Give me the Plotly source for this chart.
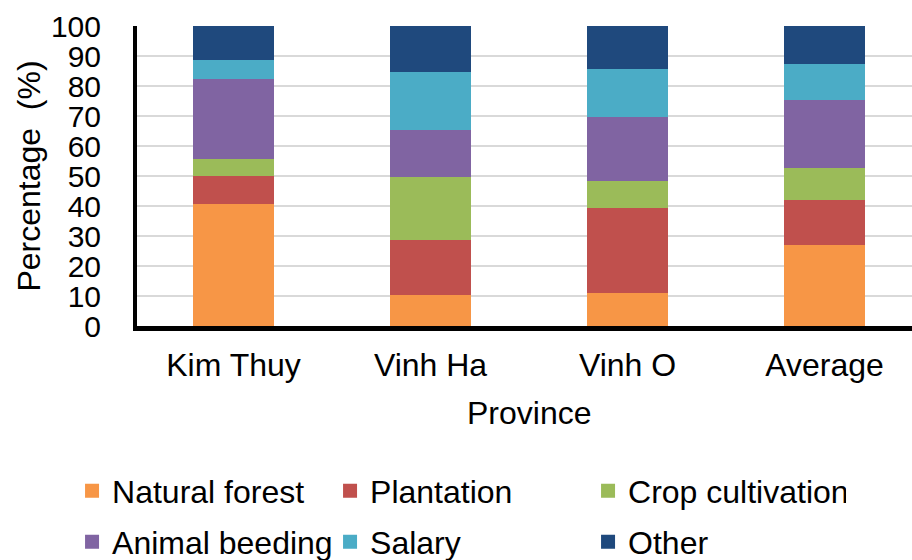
import plotly.graph_objects as go

provinces = ["Kim Thuy", "Vinh Ha", "Vinh O", "Average"]
natural_forest = [41.0, 10.8, 11.3, 27.2]
plantation = [9.3, 18.1, 28.4, 15.2]
crop_cultivation = [5.6, 21.2, 9.1, 10.6]
animal_beeding = [26.9, 15.6, 21.2, 22.6]
salary = [6.3, 19.4, 15.9, 12.0]
other = [10.9, 14.9, 14.1, 12.4]

series = [
    ("Natural forest", natural_forest, "#F79646", "legend"),
    ("Plantation", plantation, "#C0504D", "legend"),
    ("Crop cultivation", crop_cultivation, "#9BBB59", "legend"),
    ("Animal beeding", animal_beeding, "#8064A2", "legend2"),
    ("Salary", salary, "#4BACC6", "legend2"),
    ("Other", other, "#1F497D", "legend2"),
]

FONT = "Arial"

fig = go.Figure()
for name, vals, color, leg in series:
    fig.add_trace(go.Bar(
        x=provinces, y=vals, name=name, legend=leg,
        marker=dict(color=color, line=dict(color=color, width=2)),
    ))

legend_common = dict(
    orientation="h", xanchor="left", yanchor="middle",
    xref="container", yref="container",
    entrywidth=213, entrywidthmode="pixels",
    font=dict(family=FONT, size=32, color="black"),
    bgcolor="rgba(0,0,0,0)", itemclick=False, itemdoubleclick=False,
    traceorder="normal",
)

fig.update_layout(
    width=912, height=560,
    margin=dict(l=137, r=0, t=26, b=234, autoexpand=False),
    paper_bgcolor="white", plot_bgcolor="white",
    barmode="stack", bargap=0.6,
    font=dict(family=FONT, size=32, color="black"),
    showlegend=True,
    legend=dict(x=0.079, y=1 - 491 / 560, **legend_common),
    legend2=dict(x=0.079, y=1 - 542 / 560, **legend_common),
    xaxis=dict(
        range=[-0.49, 3.444], showline=True, linecolor="black", linewidth=5,
        showgrid=False, ticks="", tickfont=dict(size=32),
        ticklabelstandoff=7, automargin=False,
    ),
    yaxis=dict(
        range=[0, 100], dtick=10, showline=True, linecolor="black", linewidth=4,
        showgrid=True, gridcolor="#D9D9D9", gridwidth=1.5,
        ticks="", tickfont=dict(size=30), ticklabelstandoff=26,
        title=dict(text="Percentage\u00a0 (%)", font=dict(size=32), standoff=2),
        zeroline=False, automargin=False,
    ),
    annotations=[dict(
        text="Province", x=1.5, xref="x", y=-0.29, yref="paper",
        yanchor="middle", xanchor="center", showarrow=False,
        font=dict(family=FONT, size=32, color="black"),
    )],
)

fig.write_html(
    "out.html",
    config={"displayModeBar": False},
    post_script="document.body.style.margin='0';document.body.style.overflow='hidden';",
)
